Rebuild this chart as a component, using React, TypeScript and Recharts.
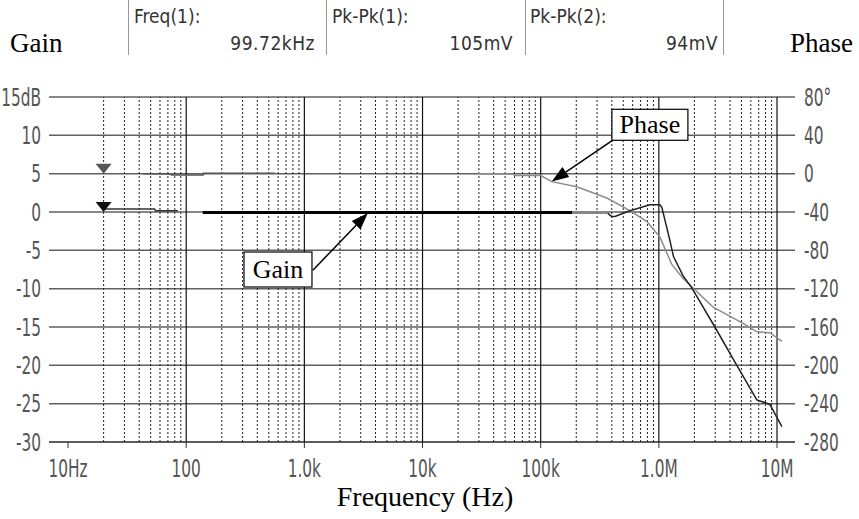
import React from 'react';
import { LineChart, Line, XAxis, YAxis, CartesianGrid, ReferenceLine, ReferenceDot } from 'recharts';

const freqTicks = [10, 100, 1000, 10000, 100000, 1000000, 10000000];
const freqTickLabels = ['10Hz', '100', '1.0k', '10k', '100k', '1.0M', '10M'];
const gainTicks = [-30, -25, -20, -15, -10, -5, 0, 5, 10, 15];
const phaseTicks = [-280, -240, -200, -160, -120, -80, -40, 0, 40, 80];

const decadeLines = [100, 1000, 10000, 100000, 1000000, 10000000];
const minorLines = [1, 2, 3, 4, 5, 6].flatMap((k) => [2, 3, 4, 5, 6, 7, 8, 9].map((m) => m * Math.pow(10, k)));

const gainLow = [
  { f: 20, v: 0.4 }, { f: 54, v: 0.4 }, { f: 55, v: 0.17 }, { f: 85, v: 0.17 },
];
const gainMid = [
  { f: 138, v: -0.08 }, { f: 184000, v: -0.08 },
];
const gainGray = [
  { f: 184000, v: -0.17 }, { f: 370000, v: -0.17 },
];
const gainHigh = [
  { f: 370000, v: -0.17 }, { f: 400000, v: -0.6 }, { f: 430000, v: -0.55 },
  { f: 569000, v: 0.17 }, { f: 840000, v: 0.95 }, { f: 1020000, v: 0.95 }, { f: 1060000, v: 0.6 },
  { f: 1240000, v: -3.7 }, { f: 1330000, v: -5.8 }, { f: 1600000, v: -8.3 }, { f: 1900000, v: -9.9 },
  { f: 2980000, v: -15 }, { f: 4570000, v: -20 }, { f: 6750000, v: -24.5 }, { f: 8700000, v: -25.1 },
  { f: 11000000, v: -28 },
];
const phaseLow = [
  { f: 43, v: 0 }, { f: 73, v: -0.3 }, { f: 75, v: -1.4 }, { f: 139, v: -1.4 }, { f: 140, v: 0.4 }, { f: 560, v: 0.4 },
];
const phaseHigh = [
  { f: 29400, v: 0 }, { f: 58000, v: -0.3 }, { f: 60000, v: -2 }, { f: 100000, v: -2 },
  { f: 124000, v: -8.3 }, { f: 202000, v: -13.6 }, { f: 363000, v: -25.4 }, { f: 569000, v: -38.6 },
  { f: 793000, v: -50 }, { f: 1020000, v: -66 }, { f: 1290000, v: -95 }, { f: 1600000, v: -109 },
  { f: 1900000, v: -118 }, { f: 2860000, v: -139 }, { f: 3760000, v: -147 }, { f: 5130000, v: -156 },
  { f: 6750000, v: -165 }, { f: 8700000, v: -166 }, { f: 11000000, v: -175 },
];

const markerFreq = 20;
const gainArrow = [{ x: 1180, y: -7.6 }, { x: 3450, y: -0.13 }];
const phaseArrow = [{ x: 408000, y: 35 }, { x: 124000, y: -8.3 }];
const gainBox = { f: 598, v: -7.5, text: 'Gain' };
const phaseBox = { f: 840000, v: 51, text: 'Phase' };

const tickFont = '"DejaVu Sans", sans-serif';
const serif = '"Liberation Serif", "Times New Roman", serif';
const hdrFont = '"DejaVu Sans Condensed", "DejaVu Sans", sans-serif';

const NarrowTick = (fmt: (v: number) => string, dy: number) => (p: any) => {
  const { x, y, payload, textAnchor } = p;
  return (
    <text
      transform={`translate(${x},${y}) scale(0.64,1)`}
      textAnchor={textAnchor}
      dy={dy}
      fontFamily={tickFont}
      fontSize={24}
      fill="#555"
    >
      {fmt(payload.value)}
    </text>
  );
};

const Tri = (color: string) => (p: any) => (
  <polygon points={`${p.cx - 8},${p.cy - 10} ${p.cx + 8},${p.cy - 10} ${p.cx},${p.cy}`} fill={color} />
);

const Arrow = (p: any) => {
  const { x1, y1, x2, y2 } = p;
  const dx = x2 - x1, dy = y2 - y1;
  const len = Math.sqrt(dx * dx + dy * dy) || 1;
  const ux = dx / len, uy = dy / len;
  const hl = 17, hw = 6;
  const bx = x2 - ux * hl, by = y2 - uy * hl;
  return (
    <g>
      <line x1={x1} y1={y1} x2={bx} y2={by} stroke="#000" strokeWidth={1.5} />
      <polygon points={`${x2},${y2} ${bx - uy * hw},${by + ux * hw} ${bx + uy * hw},${by - ux * hw}`} fill="#000" />
    </g>
  );
};

const Box = (w: number, h: number, text: string) => (p: any) => (
  <g>
    <rect x={p.cx - w / 2} y={p.cy - h / 2} width={w} height={h} fill="#fff" stroke="#000" strokeWidth={1.2} />
    <text x={p.cx} y={p.cy + 8} textAnchor="middle" fontFamily={serif} fontSize={26} fill="#000">{text}</text>
  </g>
);

const fmtFreq = (v: number) => freqTickLabels[freqTicks.indexOf(v)] ?? '';
const fmtGain = (v: number) => (v === 15 ? '15dB' : String(v));
const fmtPhase = (v: number) => (v === 80 ? '80°' : String(v));

export default function App() {
  return (
    <div style={{ position: 'absolute', left: 0, top: 0, width: 859, height: 519, background: '#fff' }}>
      <LineChart width={859} height={519} margin={{ top: 97, right: 0, bottom: 0, left: 0 }}>
        <CartesianGrid yAxisId="g" vertical={false} stroke="#606060" strokeWidth={1.5} />
        <XAxis
          dataKey="f" type="number" scale="log" domain={[6.9, 14200000]} allowDataOverflow
          ticks={freqTicks} height={77} stroke="#333" tickSize={6} tickMargin={4} interval={0}
          tick={NarrowTick(fmtFreq, 25)}
        />
        <YAxis
          yAxisId="g" orientation="left" width={49} domain={[-30, 15]} ticks={gainTicks} allowDataOverflow
          axisLine={false} tickLine={false} tickSize={0} tickMargin={8} interval={0}
          tick={NarrowTick(fmtGain, 8.5)}
        />
        <YAxis
          yAxisId="p" orientation="right" width={64} domain={[-280, 80]} ticks={phaseTicks} allowDataOverflow
          axisLine={false} tickLine={false} tickSize={0} tickMargin={9} interval={0}
          tick={NarrowTick(fmtPhase, 8.5)}
        />
        {minorLines.map((f) => (
          <ReferenceLine key={'m' + f} yAxisId="g" x={f} stroke="#222" strokeWidth={1} strokeDasharray="2 2" />
        ))}
        {decadeLines.map((f) => (
          <ReferenceLine key={'d' + f} yAxisId="g" x={f} stroke="#111" strokeWidth={1.2} />
        ))}
        <Line yAxisId="p" data={phaseLow} dataKey="v" stroke="#555" strokeWidth={1.5} dot={false} isAnimationActive={false} />
        <Line yAxisId="p" data={phaseHigh} dataKey="v" stroke="#8c8c8c" strokeWidth={1.5} dot={false} isAnimationActive={false} />
        <Line yAxisId="g" data={gainLow} dataKey="v" stroke="#333" strokeWidth={1.5} dot={false} isAnimationActive={false} />
        <Line yAxisId="g" data={gainMid} dataKey="v" stroke="#000" strokeWidth={3} dot={false} isAnimationActive={false} />
        <Line yAxisId="g" data={gainGray} dataKey="v" stroke="#888" strokeWidth={1.5} dot={false} isAnimationActive={false} />
        <Line yAxisId="g" data={gainHigh} dataKey="v" stroke="#222" strokeWidth={1.5} dot={false} isAnimationActive={false} />
        <ReferenceDot yAxisId="p" x={markerFreq} y={0} r={8} shape={Tri('#555')} />
        <ReferenceDot yAxisId="g" x={markerFreq} y={0} r={8} shape={Tri('#111')} />
        <ReferenceLine yAxisId="g" segment={gainArrow} shape={Arrow} />
        <ReferenceLine yAxisId="p" segment={phaseArrow} shape={Arrow} />
        <ReferenceDot yAxisId="g" x={gainBox.f} y={gainBox.v} r={10} shape={Box(68, 35, gainBox.text)} />
        <ReferenceDot yAxisId="p" x={phaseBox.f} y={phaseBox.v} r={10} shape={Box(76, 31, phaseBox.text)} />
      </LineChart>
      <svg width={859} height={519} style={{ position: 'absolute', left: 0, top: 0, pointerEvents: 'none' }}>
        {[128, 326, 525, 723].map((x) => (
          <line key={x} x1={x + 0.5} y1={0} x2={x + 0.5} y2={55} stroke="#999" strokeWidth={1} />
        ))}
        <text x={134} y={23} fontFamily={hdrFont} fontSize={19} fill="#333">Freq(1):</text>
        <text x={315} y={50} textAnchor="end" fontFamily={hdrFont} fontSize={19} fill="#333" letterSpacing={0.5}>99.72kHz</text>
        <text x={332} y={23} fontFamily={hdrFont} fontSize={19} fill="#333">Pk-Pk(1):</text>
        <text x={513} y={50} textAnchor="end" fontFamily={hdrFont} fontSize={19} fill="#333" letterSpacing={0.5}>105mV</text>
        <text x={530} y={23} fontFamily={hdrFont} fontSize={19} fill="#333">Pk-Pk(2):</text>
        <text x={718} y={50} textAnchor="end" fontFamily={hdrFont} fontSize={19} fill="#333" letterSpacing={0.5}>94mV</text>
        <text x={10} y={52} fontFamily={serif} fontSize={27} fill="#000">Gain</text>
        <text x={790} y={52} fontFamily={serif} fontSize={27} fill="#000">Phase</text>
        <text x={425} y={506} textAnchor="middle" fontFamily={serif} fontSize={28} fill="#000">Frequency (Hz)</text>
      </svg>
    </div>
  );
}
